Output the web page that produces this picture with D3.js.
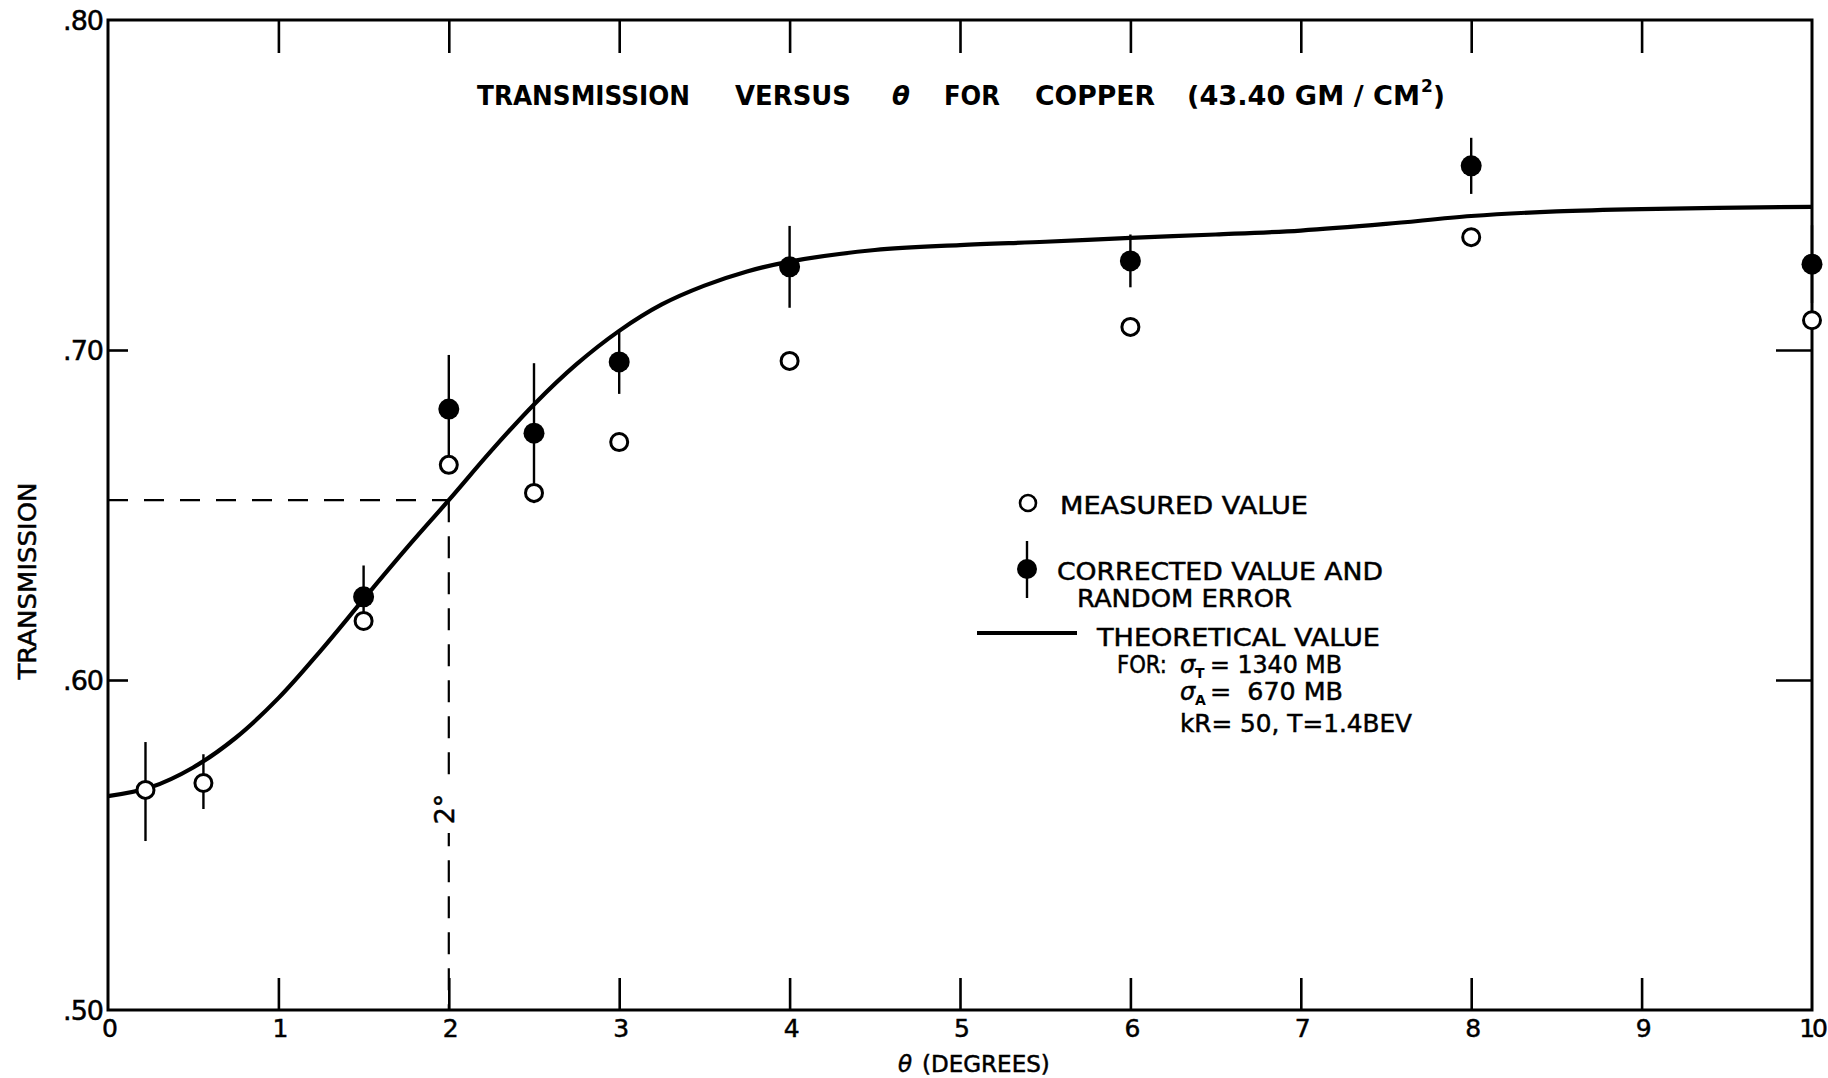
<!DOCTYPE html>
<html><head><meta charset="utf-8">
<script src="https://cdn.jsdelivr.net/npm/d3@7"></script>
<style>
html,body{margin:0;padding:0;background:#fff;}
svg text{font-family:"DejaVu Sans","Liberation Sans",sans-serif;fill:#000;}
.med{stroke:#000;stroke-width:0.5;}
</style></head>
<body>
<svg id="chart" width="1828" height="1078"></svg>
<script>
// ---- data ----
const xTicks = [0,1,2,3,4,5,6,7,8,9,10];
const xTickLabels = ["0","1","2","3","4","5","6","7","8","9","10"];
const yTicks = [0.50,0.60,0.70,0.80];
const yTickLabels = [".50",".60",".70",".80"];

const measuredTheta = [0.22,0.56,1.5,2,2.5,3,4,6,8,10];
const measuredT     = [0.5667,0.5688,0.6179,0.6652,0.6567,0.6721,0.6967,0.707,0.7342,0.709];

const correctedTheta = [0.22,0.56,1.5,2,2.5,3,4,6,8,10];
const correctedT     = [0.5662,0.5692,0.6252,0.6821,0.6748,0.6964,0.7252,0.727,0.7558,0.726];
const correctedErr   = [0.0150,0.0083,0.0095,0.0164,0.0212,0.0097,0.0124,0.0080,0.0085,0.0118];
const correctedFilled= [false,false,true,true,true,true,true,true,true,true];

const curveTheta = [0,0.25,0.5,0.75,1,1.25,1.5,1.75,2,2.25,2.5,2.75,3,3.25,3.5,3.75,4,4.5,5,5.5,6,6.5,7,7.5,8,8.5,9,10];
const curveT     = [.5648,.5675,.5735,.5825,.5945,.609,.6245,.6398,.6545,.6695,.6835,.6957,.7058,.7138,.7195,.7238,.7268,.7303,.7318,.7328,.7340,.7350,.7362,.7382,.7406,.7420,.7427,.7434];

const refTheta = 2;
const refT = 0.6545;

// ---- layout ----
const W = 1828, H = 1078;
const m = {left:108, right:16, top:20, bottom:68};
const svg = d3.select("#chart");
const x = d3.scaleLinear().domain([0,10]).range([m.left, W - m.right]);
const y = d3.scaleLinear().domain([0.50,0.80]).range([H - m.bottom, m.top]);

const g = svg.append("g");

// dashed reference lines
g.append("line").attr("x1",x(0)).attr("x2",x(refTheta)).attr("y1",y(refT)).attr("y2",y(refT))
  .attr("stroke","#000").attr("stroke-width",2.2).attr("stroke-dasharray","20,16");
g.append("line").attr("x1",x(refTheta)).attr("x2",x(refTheta)).attr("y1",y(refT)).attr("y2",y(0.50))
  .attr("stroke","#000").attr("stroke-width",2.2).attr("stroke-dasharray","22,14");
// label on vertical dashed line
const lx = x(refTheta) - 4, ly = 809;
g.append("rect").attr("x",lx-14).attr("y",ly-24).attr("width",26).attr("height",48).attr("fill","#fff");
g.append("text").attr("class","med").attr("transform",`translate(${lx+9},${ly}) rotate(-90)`)
  .attr("text-anchor","middle").attr("font-size",27).text("2°");

// frame
g.append("rect").attr("x",x(0)).attr("y",y(0.80)).attr("width",x(10)-x(0)).attr("height",y(0.50)-y(0.80))
  .attr("fill","none").attr("stroke","#000").attr("stroke-width",3);

// axes via d3 axis generators (inward ticks)
const xInner = xTicks.slice(1,-1);
const axB = d3.axisBottom(x).tickValues(xInner).tickSize(-32).tickFormat("");
const axT = d3.axisTop(x).tickValues(xInner).tickSize(-33).tickFormat("");
const yInner = [0.60,0.70];
const axL = d3.axisLeft(y).tickValues(yInner).tickSize(-20).tickFormat("");
const axR = d3.axisRight(y).tickValues(yInner).tickSize(-36).tickFormat("");
function styleAxis(sel){ sel.select(".domain").remove(); sel.selectAll("line").attr("stroke","#000").attr("stroke-width",2.6); }
g.append("g").attr("transform",`translate(0,${y(0.50)})`).call(axB).call(styleAxis);
g.append("g").attr("transform",`translate(0,${y(0.80)})`).call(axT).call(styleAxis);
g.append("g").attr("transform",`translate(${x(0)},0)`).call(axL).call(styleAxis);
g.append("g").attr("transform",`translate(${x(10)},0)`).call(axR).call(styleAxis);

// tick labels
g.selectAll(".xl").data(xTicks).enter().append("text").attr("class","med")
  .attr("x",(d)=> d===10 ? x(d)+13 : x(d)+2).attr("y",y(0.50)+27)
  .attr("text-anchor",(d)=> d===10 ? "end" : "middle")
  .attr("font-size",25).attr("letter-spacing",(d)=> d===10 ? -3 : 0).text((d,i)=>xTickLabels[i]);
g.selectAll(".yl").data(yTicks).enter().append("text").attr("class","med")
  .attr("x",x(0)-5).attr("y",(d)=>y(d)+10).attr("text-anchor","end")
  .attr("font-size",27).attr("letter-spacing",-1).text((d,i)=>yTickLabels[i]);

// axis titles
svg.append("text").attr("class","med").attr("transform","translate(36,581) rotate(-90)").attr("text-anchor","middle")
  .attr("font-size",24).attr("textLength",197).attr("lengthAdjust","spacingAndGlyphs").text("TRANSMISSION");
const xt = svg.append("text").attr("class","med").attr("x",898).attr("y",1072).attr("font-size",23);
xt.append("tspan").attr("font-style","italic").text("θ");
xt.append("tspan").attr("dx",10).text("(DEGREES)");

// title
const titleParts = [
  {t:"TRANSMISSION", x0:477, x1:690},
  {t:"VERSUS", x0:735, x1:851},
  {t:"FOR", x0:944, x1:1000},
  {t:"COPPER", x0:1035, x1:1155},
  {t:"(43.40 GM / CM", x0:1187, x1:1420}
];
titleParts.forEach(p=>{
  svg.append("text").attr("x",p.x0).attr("y",105).attr("font-size",26).attr("font-weight","bold")
    .attr("textLength",p.x1-p.x0).attr("lengthAdjust","spacingAndGlyphs").text(p.t);
});
svg.append("text").attr("x",892).attr("y",105).attr("font-size",26).attr("font-weight","bold")
  .attr("font-style","italic").text("θ");
svg.append("text").attr("x",1421).attr("y",92).attr("font-size",17).attr("font-weight","bold").text("2");
svg.append("text").attr("x",1433).attr("y",105).attr("font-size",26).attr("font-weight","bold").text(")");

// theoretical curve
const line = d3.line().x((d)=>x(d[0])).y((d)=>y(d[1])).curve(d3.curveCatmullRom.alpha(0.5));
g.append("path").datum(curveTheta.map((t,i)=>[t,curveT[i]]))
  .attr("d",line).attr("fill","none").attr("stroke","#000").attr("stroke-width",4.2);

// error bars
const corr = correctedTheta.map((t,i)=>({t, v:correctedT[i], e:correctedErr[i], f:correctedFilled[i]}));
g.selectAll(".eb").data(corr).enter().append("line")
  .attr("x1",(d)=>x(d.t)).attr("x2",(d)=>x(d.t)).attr("y1",(d)=>y(d.v+d.e)).attr("y2",(d)=>y(d.v-d.e))
  .attr("stroke","#000").attr("stroke-width",2.4);

// measured (open circles)
g.selectAll(".ms").data(measuredTheta).enter().append("circle")
  .attr("cx",(d)=>x(d)).attr("cy",(d,i)=>y(measuredT[i])).attr("r",8.5)
  .attr("fill","#fff").attr("stroke","#000").attr("stroke-width",3);

// corrected (filled)
g.selectAll(".cs").data(corr.filter(d=>d.f)).enter().append("circle")
  .attr("cx",(d)=>x(d.t)).attr("cy",(d)=>y(d.v)).attr("r",10.5).attr("fill","#000");

// legend
const L = svg.append("g");
L.append("circle").attr("cx",1028).attr("cy",503).attr("r",8).attr("fill","#fff").attr("stroke","#000").attr("stroke-width",2.6);
function lt(txt,x0,x1,yb){ L.append("text").attr("class","med").attr("x",x0).attr("y",yb).attr("font-size",24)
  .attr("textLength",x1-x0).attr("lengthAdjust","spacingAndGlyphs").text(txt); }
lt("MEASURED VALUE",1060,1308,514);
L.append("line").attr("x1",1027).attr("x2",1027).attr("y1",541).attr("y2",598).attr("stroke","#000").attr("stroke-width",2.4);
L.append("circle").attr("cx",1027).attr("cy",569).attr("r",10).attr("fill","#000");
lt("CORRECTED VALUE AND",1057,1383,580);
lt("RANDOM ERROR",1077,1292,607);
L.append("line").attr("x1",977).attr("x2",1077).attr("y1",633).attr("y2",633).attr("stroke","#000").attr("stroke-width",4);
lt("THEORETICAL VALUE",1097,1380,646);
lt("FOR:",1117,1167,673);
function sig(x0,yb,sub,rest,x1){
  L.append("text").attr("class","med").attr("x",x0).attr("y",yb).attr("font-size",24).attr("font-style","italic").text("σ");
  L.append("text").attr("x",x0+15).attr("y",yb+5).attr("font-size",14).attr("font-weight","bold").text(sub);
  L.append("text").attr("class","med").attr("x",x0+30).attr("y",yb).attr("font-size",24)
    .attr("textLength",x1-x0-30).attr("lengthAdjust","spacingAndGlyphs").attr("xml:space","preserve").text(rest);
}
sig(1180,673,"T","= 1340 MB",1342);
sig(1180,700,"A","=  670 MB",1343);
lt("kR= 50, T=1.4BEV",1180,1412,732);
</script>
</body></html>
